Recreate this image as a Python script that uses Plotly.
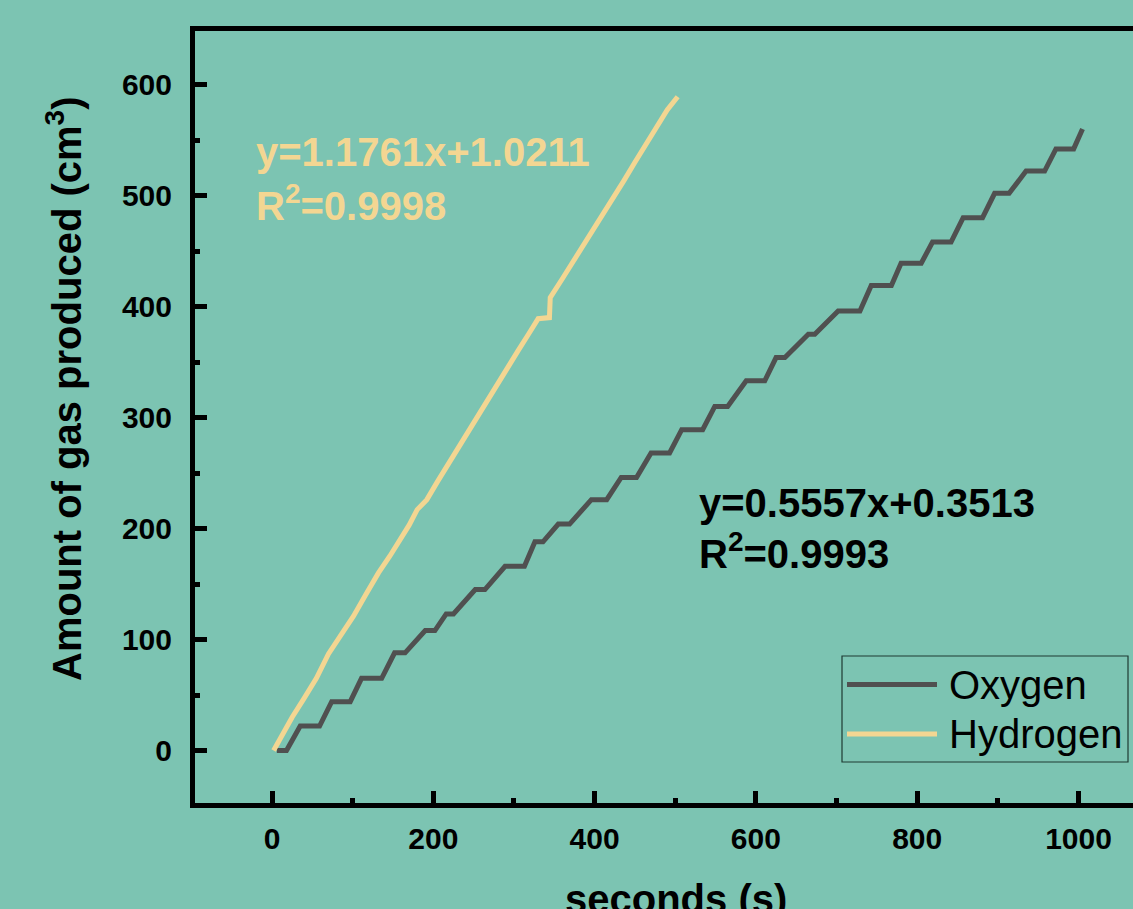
import plotly.graph_objects as go

# ---------------- data ----------------
oxygen_t = [6, 18, 35, 59, 74, 97, 111, 136, 152, 165, 190, 202, 216, 225, 252, 264,
            289, 313, 326, 336, 355, 369, 396, 415, 433, 452, 470, 493, 508, 534,
            549, 565, 588, 611, 625, 636, 665, 673, 702, 729, 743, 768, 780, 805,
            819, 842, 857, 881, 896, 914, 935, 958, 972, 994, 1005]
oxygen_v = [0, 0, 22, 22, 44, 44, 65, 65, 88, 88, 108, 108, 123, 123, 145, 145,
            166, 166, 188, 188, 204, 204, 226, 226, 246, 246, 268, 268, 289, 289,
            310, 310, 333, 333, 354, 354, 375, 375, 396, 396, 419, 419, 439, 439,
            458, 458, 480, 480, 502, 502, 522, 522, 542, 542, 560]

hydrogen_t = [2, 16, 25, 39, 55, 70, 85, 101, 116, 132, 146, 159, 170, 180, 192, 205,
              220, 235, 250, 262, 275, 290, 305, 318, 330, 344, 345, 360, 375, 390,
              405, 420, 436, 450, 465, 478, 490, 503]
hydrogen_v = [0, 19, 30, 46, 65, 87, 103, 121, 140, 160, 175, 190, 203, 217, 226, 242,
              260, 278, 295, 309, 325, 342, 360, 375, 389, 390, 408, 425, 442, 460,
              477, 495, 513, 530, 547, 562, 577, 589]

series_names = ["Oxygen", "Hydrogen"]
eq_hydrogen = ["y=1.1761x+1.0211", "R<sup>2</sup>=0.9998"]
eq_oxygen = ["y=0.5557x+0.3513", "R<sup>2</sup>=0.9993"]
x_title = "seconds (s)"
y_title = "Amount of gas produced (cm<sup>3</sup>)"
x_ticks = [0, 200, 400, 600, 800, 1000]
y_ticks = [0, 100, 200, 300, 400, 500, 600]

# ---------------- styling ----------------
BG = "#7CC4B2"
C_OX = "#505050"
C_H = "#F3D692"
FONT = "Arial, Liberation Sans, sans-serif"

W, H = 1133, 909
ML, MR, MT, MB = 195, 0, 31, 106
X0PX, XS = 272.0, 0.8065   # pixel of x=0, pixels per unit
Y0PX, YS = 750.5, 1.11


def dx(px):
    return (px - X0PX) / XS


def dy(py):
    return (Y0PX - py) / YS


xr = [dx(ML), dx(W - MR)]
yr = [dy(H - MB), dy(MT)]

fig = go.Figure()
fig.add_trace(go.Scatter(x=oxygen_t, y=oxygen_v, mode="lines", name=series_names[0],
                         line=dict(color=C_OX, width=5), showlegend=False))
fig.add_trace(go.Scatter(x=hydrogen_t, y=hydrogen_v, mode="lines", name=series_names[1],
                         line=dict(color=C_H, width=5), showlegend=False))

tickfont = dict(family=FONT, size=30, color="black", weight="bold")
fig.update_xaxes(range=xr, tickvals=x_ticks, ticks="inside", ticklen=12, tickwidth=5,
                 tickcolor="black", showline=True, linewidth=5, linecolor="black",
                 mirror=True, showgrid=False, zeroline=False, tickfont=tickfont,
                 ticklabelstandoff=5,
                 minor=dict(ticks="inside", ticklen=5, tickwidth=5, tickcolor="black",
                            dtick=100, tick0=100, showgrid=False))
fig.update_yaxes(range=yr, tickvals=y_ticks, ticks="inside", ticklen=12, tickwidth=5,
                 tickcolor="black", showline=True, linewidth=5, linecolor="black",
                 mirror=False, showgrid=False, zeroline=False, tickfont=tickfont,
                 ticklabelstandoff=12,
                 minor=dict(ticks="inside", ticklen=5, tickwidth=5, tickcolor="black",
                            dtick=100, tick0=50, showgrid=False))

annos = []


def text(px, py, s, color, size=40, weight="bold", xanchor="left"):
    annos.append(dict(x=dx(px), y=dy(py), xref="x", yref="y", text=s, showarrow=False,
                      xanchor=xanchor, yanchor="middle",
                      font=dict(family=FONT, size=size, color=color, weight=weight)))


text(254, 152, eq_hydrogen[0], C_H)
text(254, 203, eq_hydrogen[1], C_H)
text(697, 503, eq_oxygen[0], "black")
text(697, 551, eq_oxygen[1], "black")

# legend drawn manually (long sample lines as in the reference)
shapes = [
    dict(type="rect", xref="x", yref="y", x0=dx(842), x1=dx(1128), y0=dy(656), y1=dy(762),
         line=dict(color="#1E3A32", width=1.2), fillcolor="rgba(0,0,0,0)"),
    dict(type="line", xref="x", yref="y", x0=dx(847), x1=dx(937), y0=dy(684.5), y1=dy(684.5),
         line=dict(color=C_OX, width=5)),
    dict(type="line", xref="x", yref="y", x0=dx(847), x1=dx(937), y0=dy(734), y1=dy(734),
         line=dict(color=C_H, width=5)),
]
text(947, 685, series_names[0], "black", size=40, weight="normal")
text(947, 734, series_names[1], "black", size=40, weight="normal")

# axis titles
annos.append(dict(x=(676 - ML) / (W - ML - MR), y=(H - MB - 875) / (H - MT - MB),
                  xref="paper", yref="paper", text=x_title, showarrow=False,
                  xanchor="center", yanchor="top",
                  font=dict(family=FONT, size=40, color="black", weight="bold")))
annos.append(dict(x=(64 - ML) / (W - ML - MR), y=(H - MB - 389) / (H - MT - MB),
                  xref="paper", yref="paper", text=y_title, showarrow=False,
                  textangle=-90, xanchor="center", yanchor="middle",
                  font=dict(family=FONT, size=40, color="black", weight="bold")))

fig.update_layout(width=W, height=H, margin=dict(l=ML, r=MR, t=MT, b=MB, pad=0),
                  paper_bgcolor=BG, plot_bgcolor=BG, showlegend=False,
                  annotations=annos, shapes=shapes)

fig.write_html("out.html", config={"displayModeBar": False},
               post_script="document.body.style.margin='0';document.body.style.overflow='hidden';")
